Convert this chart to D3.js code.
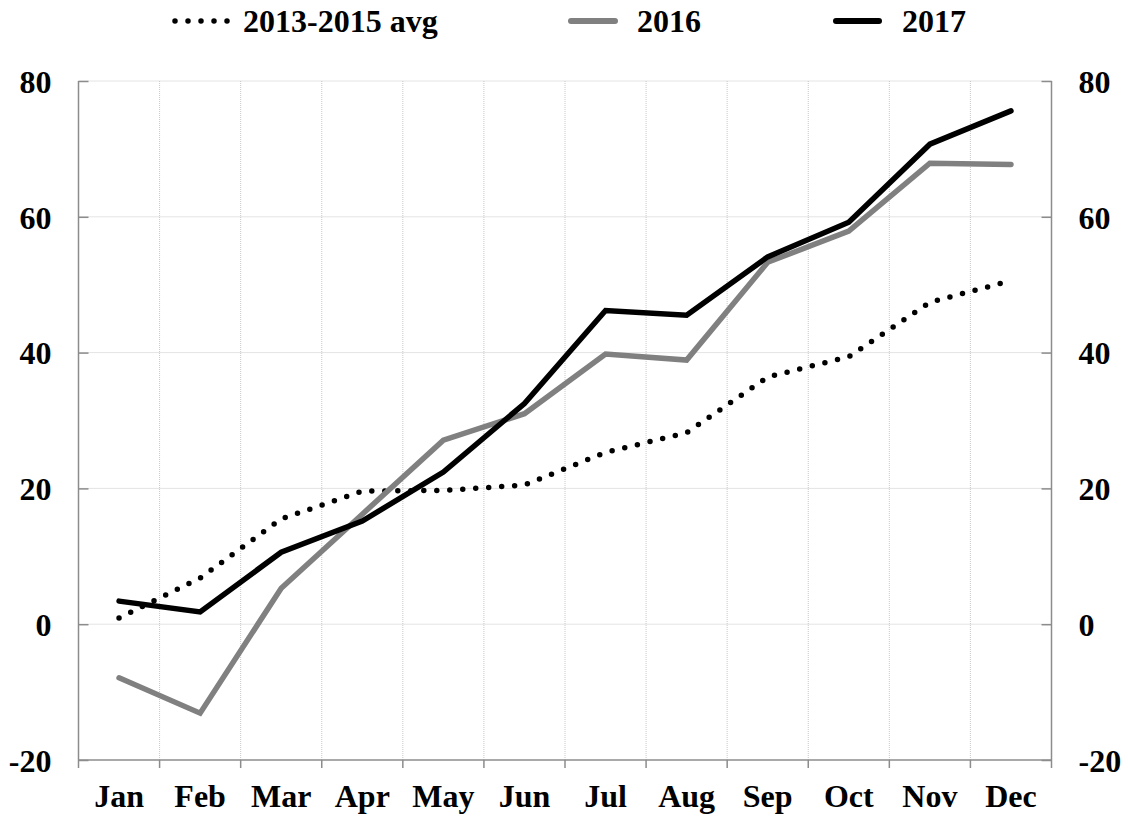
<!DOCTYPE html>
<html><head><meta charset="utf-8">
<script src="https://cdn.jsdelivr.net/npm/d3@7"></script>
<style>body{margin:0;background:#fff}text{font-family:"Liberation Serif","Times New Roman",serif;font-weight:bold;fill:#000}</style>
</head><body><svg id="c" width="1128" height="819"></svg>
<script>
const months = ["Jan","Feb","Mar","Apr","May","Jun","Jul","Aug","Sep","Oct","Nov","Dec"];
const avg1315 = [0.9,6.8,15.5,19.6,19.7,20.5,25.3,28.2,36.4,39.4,47.4,50.6];
const y2016 = [-7.9,-13.1,5.3,16.2,27.1,31.0,39.8,38.9,53.3,57.9,67.9,67.7];
const y2017 = [3.4,1.8,10.6,15.2,22.4,32.5,46.2,45.5,54.1,59.2,70.7,75.6];
const yTicks = [-20,0,20,40,60,80];
const seriesNames = ["2013-2015 avg","2016","2017"];

const FS = "32px";
const svg = d3.select("#c");
const L = 78.5, R = 1051.5, T = 81, B = 760;
const x = d3.scaleBand().domain(months).range([L,R]);
const y = d3.scaleLinear().domain([-20,80]).range([B,T]);

// gridlines
const grid = svg.append("g").attr("stroke","#c8c8c8").attr("stroke-width",1).attr("stroke-dasharray","1,1");
months.slice(1).forEach(m=>{
  grid.append("line").attr("x1",x(m)).attr("x2",x(m)).attr("y1",T).attr("y2",B);
});
yTicks.filter(v=>v>-20).forEach(v=>{
  grid.append("line").attr("x1",L).attr("x2",R).attr("y1",y(v)).attr("y2",y(v));
});

// axes
const fmt = d=>String(d);
const leftAxis = d3.axisLeft(y).tickValues(yTicks).tickSize(-10).tickPadding(27).tickFormat(fmt);
const gl = svg.append("g").attr("transform",`translate(${L},0)`).call(leftAxis);
const rightAxis = d3.axisRight(y).tickValues(yTicks).tickSize(-10).tickPadding(27).tickFormat(fmt);
const gr = svg.append("g").attr("transform",`translate(${R},0)`).call(rightAxis);
const bottomAxis = d3.axisBottom(x).tickSize(0).tickPadding(36);
const gb = svg.append("g").attr("transform",`translate(0,${B})`).call(bottomAxis);
[gl,gr,gb].forEach(g=>{
  g.select(".domain").attr("stroke","#8c8c8c").attr("stroke-width",1.5);
  g.selectAll(".tick line").attr("stroke","#8c8c8c").attr("stroke-width",1.5);
  g.selectAll("text").style("font-size",FS).style("font-family","Liberation Serif").style("font-weight","bold").attr("fill","#000").attr("dy","0.35em");
});
gl.select(".domain").attr("d",`M0,${T}V${B}`);
gr.select(".domain").attr("d",`M0,${T}V${B}`);
gb.select(".domain").attr("d",`M${L},0H${R}`);
// bottom ticks at band boundaries
const bt = svg.append("g").attr("stroke","#8c8c8c").attr("stroke-width",1.5);
months.forEach(m=>bt.append("line").attr("x1",x(m)).attr("x2",x(m)).attr("y1",B).attr("y2",B+8));
bt.append("line").attr("x1",R).attr("x2",R).attr("y1",B).attr("y2",B+8);

// lines
const line = d3.line().x((d,i)=>x(months[i])+x.bandwidth()/2).y(d=>y(d));
svg.append("path").datum(avg1315).attr("d",line).attr("fill","none").attr("stroke","#000").attr("stroke-width",5.5).attr("stroke-linecap","round").attr("stroke-dasharray","0 13");
svg.append("path").datum(y2016).attr("d",line).attr("fill","none").attr("stroke","#808080").attr("stroke-width",5.5).attr("stroke-linejoin","miter").attr("stroke-linecap","round");
svg.append("path").datum(y2017).attr("d",line).attr("fill","none").attr("stroke","#000").attr("stroke-width",5.5).attr("stroke-linejoin","miter").attr("stroke-linecap","round");

// legend
const lg = svg.append("g");
const ly = 21;
lg.append("line").attr("x1",175).attr("x2",234).attr("y1",ly).attr("y2",ly).attr("stroke","#000").attr("stroke-width",5.5).attr("stroke-linecap","round").attr("stroke-dasharray","0 13");
lg.append("text").attr("x",243).attr("y",ly).attr("dy","0.35em").style("font-size",FS).text(seriesNames[0]);
lg.append("line").attr("x1",571).attr("x2",615).attr("y1",ly).attr("y2",ly).attr("stroke","#808080").attr("stroke-width",6).attr("stroke-linecap","round");
lg.append("text").attr("x",637).attr("y",ly).attr("dy","0.35em").style("font-size",FS).text(seriesNames[1]);
lg.append("line").attr("x1",836).attr("x2",879).attr("y1",ly).attr("y2",ly).attr("stroke","#000").attr("stroke-width",6).attr("stroke-linecap","round");
lg.append("text").attr("x",902).attr("y",ly).attr("dy","0.35em").style("font-size",FS).text(seriesNames[2]);
</script></body></html>
